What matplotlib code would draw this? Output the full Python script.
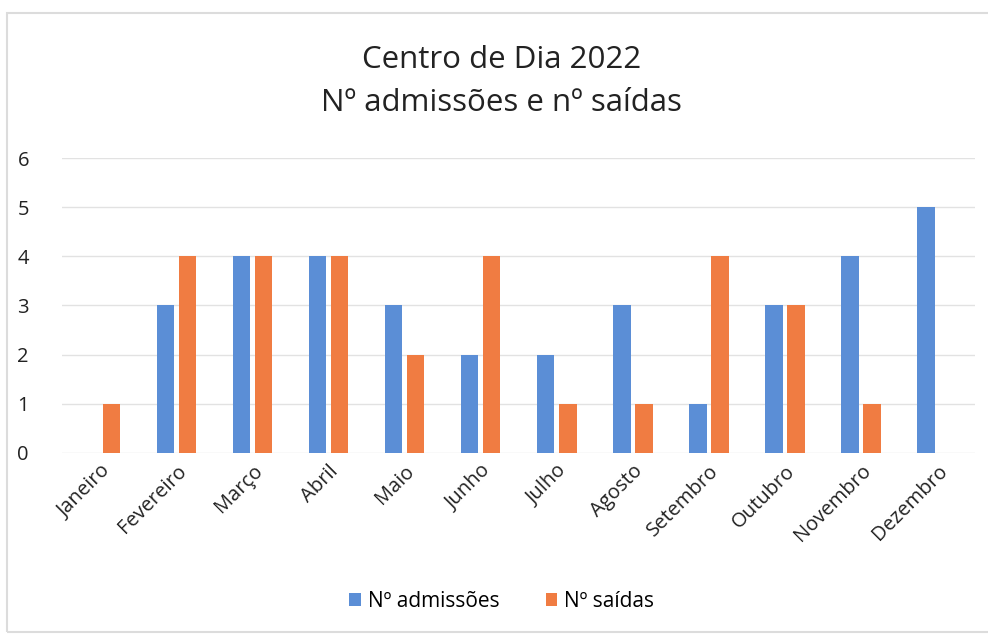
import matplotlib.pyplot as plt
import numpy as np
from matplotlib.patches import Rectangle

plt.rcParams["font.family"] = ["Open Sans", "DejaVu Sans"]

MONTHS = ["Janeiro", "Fevereiro", "Março", "Abril", "Maio", "Junho",
          "Julho", "Agosto", "Setembro", "Outubro", "Novembro", "Dezembro"]
ADMISSOES = [0, 3, 4, 4, 3, 2, 2, 3, 1, 3, 4, 5]
SAIDAS = [1, 4, 4, 4, 2, 4, 1, 1, 4, 3, 1, 0]

BLUE = "#5B8ED6"
ORANGE = "#F07C42"

fig = plt.figure(figsize=(9.88, 6.35), dpi=100)
fig.patches.append(Rectangle((0.007, 0.004), 1.2, 0.975, transform=fig.transFigure,
                             fill=False, edgecolor="#dcdcdc", linewidth=1.5))
ax = fig.add_axes([0.063, 0.287, 0.924, 0.464])

x = np.arange(len(MONTHS))
w = 0.23
ax.bar(x - 0.145, ADMISSOES, width=w, color=BLUE, label="Nº admissões", zorder=3)
ax.bar(x + 0.145, SAIDAS, width=w, color=ORANGE, label="Nº saídas", zorder=3)

ax.set_xlim(-0.5, len(MONTHS) - 0.5)
ax.set_ylim(0, 6)
ax.set_yticks(range(7))
ax.grid(axis="y", color="#e2e2e2", linewidth=1, zorder=0)
for s in ax.spines.values():
    s.set_visible(False)
ax.tick_params(length=0, labelsize=14.5, colors="#222222")
ax.tick_params(axis="y", pad=24)
ax.tick_params(axis="x", pad=6)
ax.set_xticks(x)
ax.set_xticklabels(MONTHS, rotation=45, ha="right", rotation_mode="anchor")

fig.text(0.508, 0.905, "Centro de Dia 2022", ha="center", va="center",
         fontsize=22.5, color="#222222")
fig.text(0.508, 0.838, "Nº admissões e nº saídas", ha="center", va="center",
         fontsize=22.5, color="#222222")

fig.legend(loc="center", bbox_to_anchor=(0.508, 0.053), ncol=2, frameon=False,
           fontsize=15, handlelength=0.55, handleheight=0.55, handletextpad=0.35,
           columnspacing=2.2)

fig.savefig("out.png", dpi=100)
